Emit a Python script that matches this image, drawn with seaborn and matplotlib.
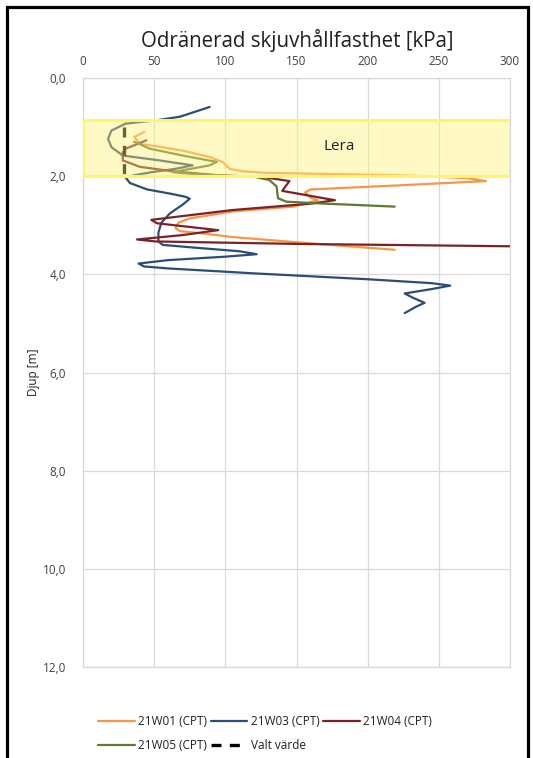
import pandas as pd
import numpy as np
import matplotlib.pyplot as plt
import seaborn as sns
from matplotlib.patches import Rectangle

# CPT-sonderingar, skjuvhållfasthet (kPa) mot djup (m)
w01_kpa = [43, 36, 40, 47, 70, 89, 98, 103, 112, 127, 180, 232, 270, 283, 220, 160, 156, 160, 165, 160, 148, 105, 75, 67, 65, 68, 82, 105, 160, 219]
w01_djup = [1.10, 1.20, 1.34, 1.37, 1.48, 1.61, 1.71, 1.85, 1.90, 1.93, 1.96, 1.99, 2.04, 2.10, 2.19, 2.27, 2.33, 2.44, 2.49, 2.53, 2.62, 2.72, 2.86, 2.95, 3.06, 3.12, 3.16, 3.24, 3.37, 3.50]

w03_kpa = [89, 68, 52, 30, 20, 17.6, 20, 28, 54, 77, 65, 48, 36, 30, 33, 45, 62, 72, 75, 70, 61, 55, 53, 53, 56, 80, 110, 122, 100, 60, 39, 43, 60, 120, 200, 245, 258, 245, 226, 232, 240, 234, 226]
w03_djup = [0.59, 0.79, 0.86, 0.93, 1.07, 1.24, 1.41, 1.58, 1.68, 1.78, 1.85, 1.92, 1.98, 2.03, 2.14, 2.27, 2.36, 2.42, 2.46, 2.58, 2.76, 2.95, 3.15, 3.33, 3.40, 3.46, 3.53, 3.59, 3.64, 3.71, 3.78, 3.84, 3.88, 3.98, 4.10, 4.18, 4.23, 4.30, 4.39, 4.48, 4.58, 4.66, 4.79]

w04_kpa = [44.5, 30, 28, 28, 40, 63, 94, 127, 145, 140, 177, 160, 105, 48, 52, 95, 70, 38, 51, 150, 305]
w04_djup = [1.27, 1.44, 1.52, 1.68, 1.81, 1.90, 1.98, 2.02, 2.10, 2.30, 2.49, 2.56, 2.69, 2.89, 2.96, 3.10, 3.20, 3.29, 3.33, 3.38, 3.43]

w05_kpa = [36, 47, 70, 94, 89, 70, 63, 80, 100, 120, 131, 136, 137, 143, 170, 219]
w05_djup = [1.30, 1.44, 1.58, 1.71, 1.78, 1.88, 1.92, 1.96, 1.99, 2.01, 2.08, 2.21, 2.45, 2.52, 2.56, 2.62]

valt_kpa = [29, 29]
valt_djup = [1.0, 2.1]

lera_top, lera_bot = 0.85, 2.0

series = ['21W01 (CPT)', '21W03 (CPT)', '21W04 (CPT)', '21W05 (CPT)']
colors = ['#F79646', '#2C4D75', '#7B2226', '#5F7A2E']

df = pd.concat([
    pd.DataFrame({'kpa': w01_kpa, 'djup': w01_djup, 'serie': series[0]}),
    pd.DataFrame({'kpa': w03_kpa, 'djup': w03_djup, 'serie': series[1]}),
    pd.DataFrame({'kpa': w04_kpa, 'djup': w04_djup, 'serie': series[2]}),
    pd.DataFrame({'kpa': w05_kpa, 'djup': w05_djup, 'serie': series[3]}),
])

sns.set_theme(style="white")
plt.rcParams['font.family'] = ['Open Sans', 'DejaVu Sans']

fig = plt.figure(figsize=(5.33, 7.58), dpi=100)
ax = fig.add_axes([83/533, 1-667/758, 427/533, 589/758])

sns.lineplot(data=df, x='kpa', y='djup', hue='serie', palette=dict(zip(series, colors)),
             sort=False, estimator=None, linewidth=1.6, ax=ax, legend=False)
ax.plot(valt_kpa, valt_djup, color='black', lw=2.4, ls=(0, (3, 2.5)), label='Valt värde')

# lerlagret
ax.add_patch(Rectangle((0, lera_top), 300, lera_bot-lera_top, facecolor='#FFF176', alpha=0.42,
                       edgecolor='none', zorder=5))
ax.add_patch(Rectangle((0, lera_top), 300, lera_bot-lera_top, facecolor='none',
                       edgecolor='#FFF568', lw=2.2, zorder=6))
ax.text(180, 1.4, 'Lera', ha='center', va='center', fontsize=11, color='#222222', zorder=7)

ax.set_xlim(0, 300)
ax.set_ylim(12, 0)
ax.set_xticks(range(0, 301, 50))
ax.set_yticks(range(0, 13, 2))
ax.set_yticklabels([f'{v:.1f}'.replace('.', ',') for v in range(0, 13, 2)])
ax.xaxis.tick_top()
ax.xaxis.set_label_position('top')
ax.tick_params(axis='both', length=0, labelsize=8.5, colors='#404040')
ax.tick_params(axis='x', pad=7)
ax.tick_params(axis='y', pad=12)
ax.grid(True, color='#D9D9D9', lw=0.9)
for s in ax.spines.values():
    s.set_color('#D9D9D9')
    s.set_linewidth(0.9)
ax.set_xlabel('')
ax.set_ylabel('Djup [m]', fontsize=8.5, color='#202020', labelpad=2)
fig.text(297/533, 1-40/758, 'Odränerad skjuvhållfasthet [kPa]', ha='center', va='center',
         fontsize=14.8, color='#202020')

# legend, radvis
handles = [plt.Line2D([], [], color=c, lw=1.6) for c in colors]
handles.append(plt.Line2D([], [], color='black', lw=2.4, ls=(0, (3, 2.5))))
labels = series + ['Valt värde']
order = [0, 3, 1, 4, 2]
fig.legend([handles[i] for i in order], [labels[i] for i in order], ncol=3,
           loc='upper left', bbox_to_anchor=(92/533, 1-709/758), frameon=False,
           fontsize=8.5, handlelength=3.1, handletextpad=0.3, columnspacing=0.3,
           labelspacing=0.95, borderpad=0, labelcolor='#202020')

# ram runt bilden
fig.add_artist(Rectangle((6.5/533, -0.05), 521/533, 1.05-6.5/758, transform=fig.transFigure,
                         facecolor='none', edgecolor='black', lw=2.3))

fig.savefig('out.png', dpi=100)
